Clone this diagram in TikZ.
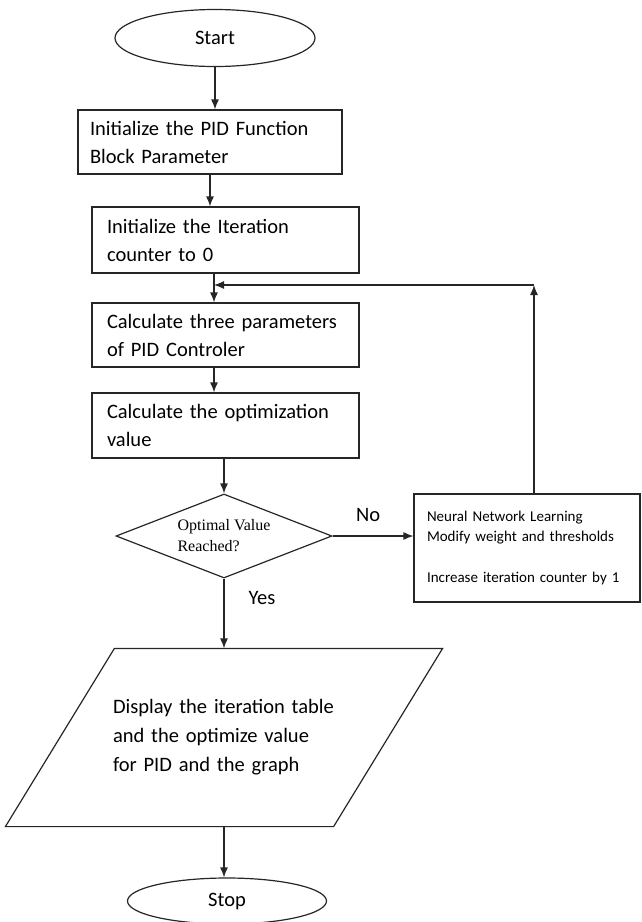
\documentclass[tikz,border=0pt]{standalone}
\usepackage{fontspec}
\setmainfont{Carlito}
\newfontfamily\decfont{Liberation Serif}
\usepackage{tikz}
\usetikzlibrary{
    positioning, % relative placement
    arrows.meta, % arrow tips
    shapes.geometric % ellipse, diamond
}
\tikzset{>={Latex[length=10pt,width=8pt]}}

\tikzset{
  terminal/.style={draw, ellipse, inner sep=0pt, font=\fontsize{20.5}{24}\selectfont},
  procbox/.style={draw, rectangle, align=left, inner ysep=0pt, font=\fontsize{20.5}{28}\selectfont},
  decision/.style={draw, diamond, aspect=2.6, inner sep=0pt, align=left, font=\decfont\fontsize{16}{21}\selectfont},
  notebox/.style={draw, rectangle, align=left, inner ysep=0pt, font=\fontsize{15}{20.5}\selectfont},
  lbl/.style={inner sep=0pt, font=\fontsize{20.5}{24}\selectfont}
}

\begin{document}
\begin{tikzpicture}[x=1pt, y=-1pt, line width=1.2pt, draw=black!85]
  \useasboundingbox (0,0) rectangle (642,922);

  % ===================== MAIN COLUMN =====================
  \node[terminal, minimum width=200, minimum height=57] (start) at (215,38) {Start};

  \node[procbox, text width=240, inner xsep=12, minimum height=64] (init) at (210,142)
    {Initialize the PID Function\\Block Parameter};
  \node[procbox, text width=237, inner xsep=15, minimum height=66] (iter) at (225.5,240)
    {Initialize the Iteration\\counter to 0};
  \node[procbox, text width=237, inner xsep=15, minimum height=64] (calc3) at (225.5,335)
    {Calculate three parameters\\of PID Controler};
  \node[procbox, text width=237, inner xsep=15, minimum height=65] (calcopt) at (225.5,425.5)
    {Calculate the optimization\\value};

  % decision
  \node[decision, minimum width=216, minimum height=84] (reach) at (224,536)
    {Optimal Value\\Reached?};

  % output (parallelogram drawn round a plain node)
  \node[align=left, text width=222, minimum width=327, minimum height=177, inner sep=0pt,
        font=\fontsize{20.5}{29}\selectfont] (display) at (224,737.5)
    {Display the iteration table\\and the optimize value\\for PID and the graph};
  \draw ([xshift=54.5]display.north west) -- ([xshift=54.5]display.north east)
     -- ([xshift=-54.5]display.south east) -- ([xshift=-54.5]display.south west) -- cycle;

  \node[terminal, minimum width=199, minimum height=46] (stop) at (227,901) {Stop};

  % ===================== LEARNING BOX =====================
  \node[notebox, text width=200, inner xsep=13, minimum height=108] (nn) at (527,548)
    {Neural Network Learning\\Modify weight and thresholds\\[20.5pt]Increase iteration counter by 1};

  % loop points
  \coordinate (join) at (214,285);
  \coordinate (turn) at (534,285);

  % connectors
  \draw[->] (start.south) -- (start.south |- init.north);
  \draw[->] (init.south) -- (init.south |- iter.north);
  \draw[->] (iter.south -| join) -- (calc3.north -| join);
  \draw[->] (calc3.south -| join) -- (calcopt.north -| join);
  \draw[->] (calcopt.south -| reach.north) -- (reach.north);
  \draw[->] (reach.east) -- (reach.east -| nn.west)
    node[lbl, pos=0.44, anchor=south, yshift=14pt] {No};
  \draw[->] (reach.south) -- (display.north)
    node[lbl, pos=0.28, anchor=west, xshift=24pt] {Yes};
  \draw[->] (display.south) -- (display.south |- stop.north);
  \draw[->] (nn.north -| turn) -- (turn);
  \draw[->] (turn) -- (join);
\end{tikzpicture}
\end{document}
